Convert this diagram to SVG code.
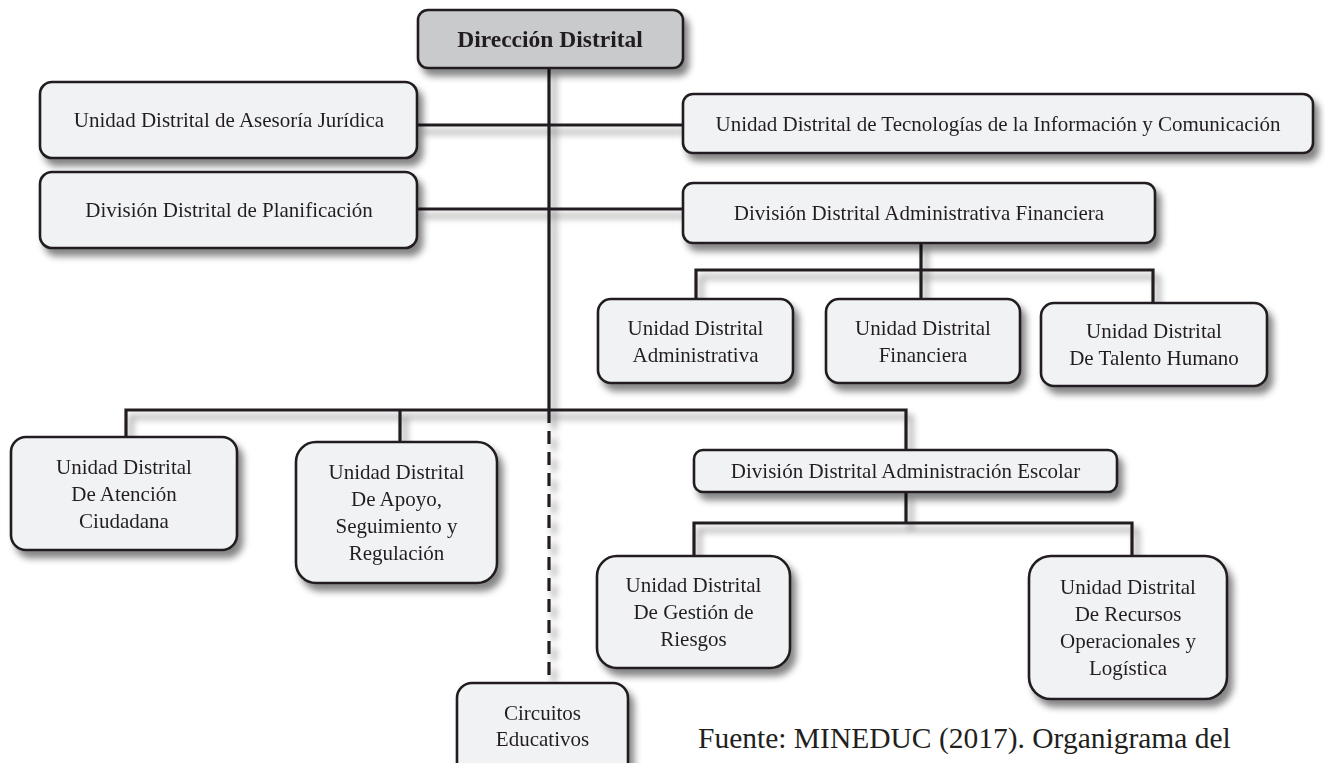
<svg xmlns="http://www.w3.org/2000/svg" width="1325" height="763" viewBox="0 0 1325 763">
  <defs>
    <filter id="shadow" filterUnits="userSpaceOnUse" x="0" y="0" width="1325" height="800">
      <feDropShadow dx="5" dy="7" stdDeviation="3.5" flood-color="#000" flood-opacity="0.48"/>
    </filter>
    <style>
      .box { fill: #f1f2f4; stroke: #231f20; stroke-width: 2.6; }
      .head { fill: #c9cacc; stroke: #231f20; stroke-width: 2.6; }
      .lbl { font-family: "Liberation Serif", "Times New Roman", serif; font-size: 21px; fill: #231f20; text-anchor: middle; }
      .title { font-family: "Liberation Serif", "Times New Roman", serif; font-size: 23.5px; font-weight: bold; fill: #231f20; text-anchor: middle; }
      .src { font-family: "Liberation Serif", "Times New Roman", serif; font-size: 29.5px; fill: #231f20; }
      .ln { stroke: #231f20; stroke-width: 3.2; fill: none; }
      .dash { stroke: #231f20; stroke-width: 3.2; fill: none; stroke-dasharray: 13 8; }
    </style>
  </defs>
  <rect width="1325" height="763" fill="#ffffff"/>

  <!-- connectors -->
  <g id="connectors" filter="url(#shadow)">
    <path class="ln" d="M549 68 V410"/>
    <path class="dash" d="M549 410 V683"/>
    <path class="ln" d="M417 125 H683"/>
    <path class="ln" d="M417 209 H683"/>
    <!-- administrative/financial division -->
    <path class="ln" d="M921 243 V270"/>
    <path class="ln" d="M696 299 V270 H1153 V303"/>
    <path class="ln" d="M921 270 V299"/>
    <!-- lower branch -->
    <path class="ln" d="M126 437 V410 H906 V450"/>
    <path class="ln" d="M400 410 V442"/>
    <!-- school administration division -->
    <path class="ln" d="M906 492 V523"/>
    <path class="ln" d="M694 556 V523 H1132 V556"/>
  </g>

  <g id="direccion" filter="url(#shadow)">
    <rect class="head" x="418" y="10" width="265" height="58" rx="10"/>
    <text class="title" x="550" y="47">Dirección Distrital</text>
  </g>

  <g id="asesoria" filter="url(#shadow)">
    <rect class="box" x="40" y="82" width="377" height="76" rx="12"/>
    <text class="lbl" x="229" y="127">Unidad Distrital de Asesoría Jurídica</text>
  </g>

  <g id="planificacion" filter="url(#shadow)">
    <rect class="box" x="40" y="172" width="377" height="76" rx="12"/>
    <text class="lbl" x="229" y="217">División Distrital de Planificación</text>
  </g>

  <g id="tic" filter="url(#shadow)">
    <rect class="box" x="683" y="94" width="630" height="59" rx="10"/>
    <text class="lbl" x="998" y="131">Unidad Distrital de Tecnologías de la Información y Comunicación</text>
  </g>

  <g id="adm-financiera" filter="url(#shadow)">
    <rect class="box" x="683" y="183" width="472" height="60" rx="10"/>
    <text class="lbl" x="919" y="220">División Distrital Administrativa Financiera</text>
  </g>

  <g id="administrativa" filter="url(#shadow)">
    <rect class="box" x="598" y="299" width="195" height="84" rx="13"/>
    <text class="lbl" x="695.5" y="334.5">Unidad Distrital</text>
    <text class="lbl" x="695.5" y="361.5">Administrativa</text>
  </g>

  <g id="financiera" filter="url(#shadow)">
    <rect class="box" x="826" y="299" width="194" height="84" rx="13"/>
    <text class="lbl" x="923" y="334.5">Unidad Distrital</text>
    <text class="lbl" x="923" y="361.5">Financiera</text>
  </g>

  <g id="talento" filter="url(#shadow)">
    <rect class="box" x="1041" y="303" width="226" height="83" rx="13"/>
    <text class="lbl" x="1154" y="338">Unidad Distrital</text>
    <text class="lbl" x="1154" y="365">De Talento Humano</text>
  </g>

  <g id="atencion" filter="url(#shadow)">
    <rect class="box" x="11" y="437" width="226" height="113" rx="15"/>
    <text class="lbl" x="124" y="473.5">Unidad Distrital</text>
    <text class="lbl" x="124" y="500.5">De Atención</text>
    <text class="lbl" x="124" y="527.5">Ciudadana</text>
  </g>

  <g id="apoyo" filter="url(#shadow)">
    <rect class="box" x="296" y="442" width="201" height="141" rx="20"/>
    <text class="lbl" x="396.5" y="479">Unidad Distrital</text>
    <text class="lbl" x="396.5" y="506">De Apoyo,</text>
    <text class="lbl" x="396.5" y="533">Seguimiento y</text>
    <text class="lbl" x="396.5" y="560">Regulación</text>
  </g>

  <g id="adm-escolar" filter="url(#shadow)">
    <rect class="box" x="694" y="450" width="423" height="42" rx="9"/>
    <text class="lbl" x="905.5" y="478">División Distrital Administración Escolar</text>
  </g>

  <g id="riesgos" filter="url(#shadow)">
    <rect class="box" x="597" y="556" width="193" height="112" rx="20"/>
    <text class="lbl" x="693.5" y="592">Unidad Distrital</text>
    <text class="lbl" x="693.5" y="619">De Gestión de</text>
    <text class="lbl" x="693.5" y="646">Riesgos</text>
  </g>

  <g id="recursos" filter="url(#shadow)">
    <rect class="box" x="1029" y="556" width="198" height="143" rx="22"/>
    <text class="lbl" x="1128" y="594">Unidad Distrital</text>
    <text class="lbl" x="1128" y="621">De Recursos</text>
    <text class="lbl" x="1128" y="648">Operacionales y</text>
    <text class="lbl" x="1128" y="675">Logística</text>
  </g>

  <g id="circuitos" filter="url(#shadow)">
    <rect class="box" x="457" y="683" width="171" height="95" rx="15"/>
    <text class="lbl" x="542.5" y="720">Circuitos</text>
    <text class="lbl" x="542.5" y="746">Educativos</text>
  </g>

  <text class="src" x="698" y="748">Fuente: MINEDUC (2017). Organigrama del</text>
</svg>
